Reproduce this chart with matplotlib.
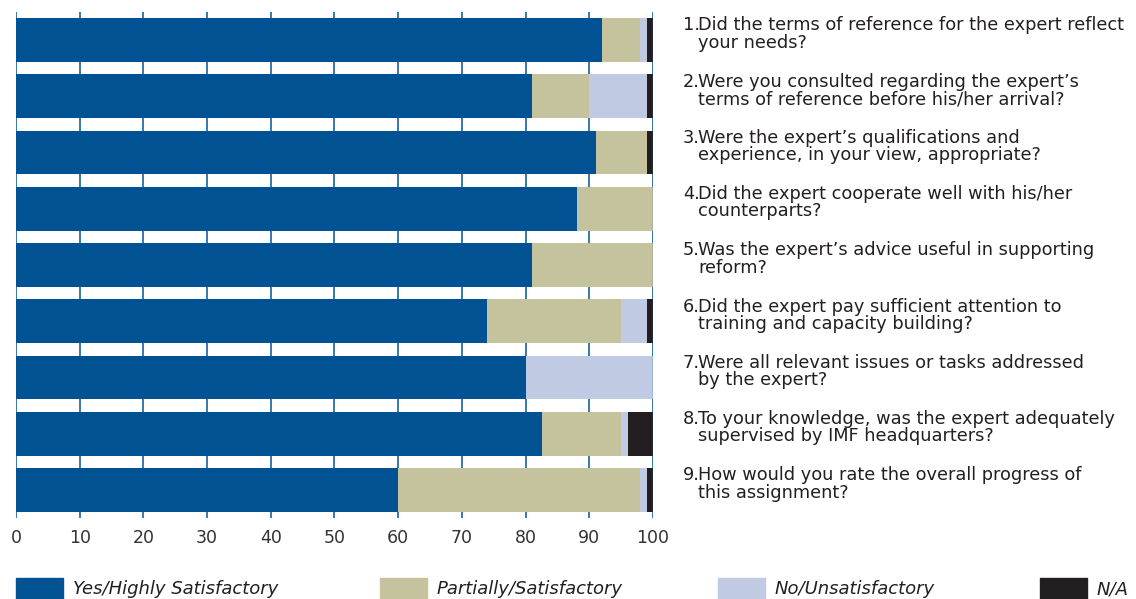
import matplotlib
matplotlib.use("Agg")
import matplotlib.pyplot as plt
from matplotlib.patches import Rectangle
import numpy as np

questions = [
    "Did the terms of reference for the expert reflect\nyour needs?",
    "Were you consulted regarding the expert\u2019s\nterms of reference before his/her arrival?",
    "Were the expert\u2019s qualifications and\nexperience, in your view, appropriate?",
    "Did the expert cooperate well with his/her\ncounterparts?",
    "Was the expert\u2019s advice useful in supporting\nreform?",
    "Did the expert pay sufficient attention to\ntraining and capacity building?",
    "Were all relevant issues or tasks addressed\nby the expert?",
    "To your knowledge, was the expert adequately\nsupervised by IMF headquarters?",
    "How would you rate the overall progress of\nthis assignment?",
]
yes_vals = [92, 81, 91, 88, 81, 74, 80, 82.6, 60]
partial_vals = [6, 9, 8, 12, 19, 21, 0, 12.4, 38]
no_vals = [1, 9, 0, 0, 0, 4, 20, 1.0, 1]
na_vals = [1, 1, 1, 0, 0, 1, 0, 4.0, 1]
series_labels = ["Yes/Highly Satisfactory", "Partially/Satisfactory", "No/Unsatisfactory", "N/A"]
series_colors = ["#005293", "#c5c29e", "#c0cae2", "#231f20"]
x_ticks = [0, 10, 20, 30, 40, 50, 60, 70, 80, 90, 100]

W, H = 1136, 599
fig = plt.figure(figsize=(W / 100, H / 100), dpi=100)
ax = fig.add_axes([16 / W, 1 - 518 / H, (653 - 16) / W, (518 - 12) / H])

y = np.arange(len(questions))
left = np.zeros(len(questions))
for vals, col in zip([yes_vals, partial_vals, no_vals, na_vals], series_colors):
    v = np.array(vals, dtype=float)
    ax.barh(y, v, left=left, height=0.78, color=col, zorder=2)
    left += v

ax.set_xlim(0, 100)
ax.set_ylim(8.5, -0.5)
ax.set_xticks(x_ticks)
ax.set_xticklabels([str(t) for t in x_ticks], fontsize=12.5, color="#333333")
ax.tick_params(axis="x", length=0, pad=8)
ax.set_yticks([])
ax.grid(axis="x", color="#2a6ea8", linewidth=1.3, zorder=1)
ax.grid(axis="y", visible=False)
ax.axvline(100, color="#2a6ea8", linewidth=1.0, zorder=3)
for s in ax.spines.values():
    s.set_visible(False)

for i, q in enumerate(questions):
    yy = i - 0.42
    ax.text(1.047, yy, f"{i + 1}.", transform=ax.get_yaxis_transform(),
            ha="left", va="top", fontsize=12.8, color="#231f20", clip_on=False)
    ax.text(1.0706, yy, q, transform=ax.get_yaxis_transform(),
            ha="left", va="top", fontsize=12.8, color="#231f20", clip_on=False,
            linespacing=0.95)

leg_x = [16, 380, 718, 1040]
for lx, lab, col in zip(leg_x, series_labels, series_colors):
    fig.add_artist(Rectangle((lx / W, 0), 47 / W, (599 - 578) / H,
                             transform=fig.transFigure, color=col))
    fig.text((lx + 57) / W, 1 - 589 / H, lab, ha="left", va="center",
             fontsize=13, style="italic", color="#231f20")

fig.savefig("out.png", dpi=100)
